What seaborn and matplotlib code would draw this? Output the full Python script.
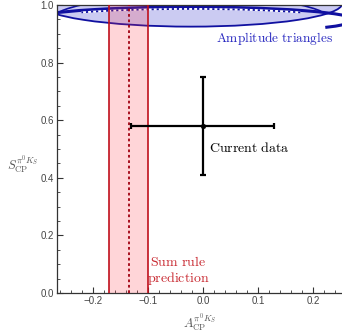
import matplotlib
matplotlib.use("Agg")
import matplotlib.pyplot as plt
import seaborn as sns
import pandas as pd
from matplotlib.patches import Ellipse, Arc
from matplotlib.ticker import MultipleLocator, FuncFormatter

# ---- data ----
meas_A = [0.00]
meas_S = [0.58]
meas_A_err = [0.13]
meas_S_err = [0.17]

sumrule_low = -0.17
sumrule_high = -0.10
sumrule_central = -0.135

# amplitude-triangle contours: filled region, thick contour, thin contour, dotted contour
tri_cx = [-0.022, -0.022, -0.022, -0.022]
tri_cy = [1.005, 0.948, 0.950, 0.944]
tri_w = [0.550, 0.595, 0.504, 0.570]
tri_h = [0.160, 0.090, 0.164, 0.085]
tri_theta1 = [0.0, -6.0, 6.75, 8.7]
tri_theta2 = [360.0, 180.0, 180.0, 171.3]

x_ticks = [-0.2, -0.1, 0.0, 0.1, 0.2]
y_ticks = [0.0, 0.2, 0.4, 0.6, 0.8, 1.0]

sns.set_theme(style="ticks")
plt.rcParams['font.family'] = ['Liberation Sans', 'DejaVu Sans']
plt.rcParams['mathtext.fontset'] = 'cm'

fig = plt.figure(figsize=(3.42, 3.36), dpi=100)
ax = fig.add_axes([0.168, 0.128, 0.832, 0.857])
ax.set_xlim(-0.2645, 0.2527)
ax.set_ylim(0, 1)

navy = "#1010a0"
# filled amplitude-triangle region
ax.add_patch(Ellipse((tri_cx[0], tri_cy[0]), tri_w[0], tri_h[0],
                     facecolor="#cbcbf2", edgecolor=navy, lw=1.3, zorder=1))
# thick contour
ax.add_patch(Arc((tri_cx[1], tri_cy[1]), tri_w[1], tri_h[1],
                 theta1=tri_theta1[1], theta2=tri_theta2[1],
                 edgecolor=navy, lw=2.2, zorder=2))
# thin contour
ax.add_patch(Arc((tri_cx[2], tri_cy[2]), tri_w[2], tri_h[2],
                 theta1=tri_theta1[2], theta2=tri_theta2[2],
                 edgecolor=navy, lw=1.2, zorder=2))
# dotted contour
ax.add_patch(Arc((tri_cx[3], tri_cy[3]), tri_w[3], tri_h[3],
                 theta1=tri_theta1[3], theta2=tri_theta2[3],
                 edgecolor="white", lw=1.3, zorder=2))
ax.add_patch(Arc((tri_cx[3], tri_cy[3]), tri_w[3], tri_h[3],
                 theta1=tri_theta1[3], theta2=tri_theta2[3],
                 edgecolor=navy, lw=1.3, ls=(0, (1.2, 1.6)), zorder=2))

# sum rule band
ax.axvspan(sumrule_low, sumrule_high, color="#ff3040", alpha=0.2, lw=0, zorder=3)
ax.axvline(sumrule_low, color="#c0101c", lw=1.2, zorder=4)
ax.axvline(sumrule_high, color="#c0101c", lw=1.2, zorder=4)
ax.axvline(sumrule_central, color="#a00010", lw=1.3, ls=(0, (1.5, 1.5)), zorder=4)

# current data
df = pd.DataFrame({"A": meas_A, "S": meas_S})
ax.errorbar(meas_A, meas_S, xerr=meas_A_err, yerr=meas_S_err, fmt="none",
            ecolor="black", elinewidth=1.6, capsize=2, capthick=1.6, zorder=5)
sns.scatterplot(data=df, x="A", y="S", ax=ax, color="black", s=12,
                edgecolor="black", zorder=6, legend=False)

# annotations
ax.text(0.236, 0.885, r"$\mathrm{Amplitude\ triangles}$", color="#2828c0",
        fontsize=9.6, ha="right", va="center")
ax.text(0.011, 0.503, r"$\mathrm{Current\ data}$", color="black",
        fontsize=10, ha="left", va="center")
ax.text(-0.045, 0.076, "$\\mathrm{Sum\\ rule}$\n$\\mathrm{prediction}$",
        color="#c82830", fontsize=10, ha="center", va="center",
        multialignment="center", linespacing=1.05)

# axes styling
fmt = FuncFormatter(lambda v, p: ("%.1f" % v).replace("-0.0", "0.0").replace("-", "\u2212"))
ax.set_xticks(x_ticks)
ax.set_yticks(y_ticks)
ax.xaxis.set_major_formatter(fmt)
ax.yaxis.set_major_formatter(fmt)
ax.xaxis.set_minor_locator(MultipleLocator(0.02))
ax.yaxis.set_minor_locator(MultipleLocator(0.05))
ax.tick_params(which="both", direction="in", top=True, right=False,
               color="#333333", labelsize=7, labelcolor="#444444", pad=2.5)
ax.tick_params(which="major", length=4, width=0.8)
ax.tick_params(which="minor", length=2, width=0.6)
for name, sp in ax.spines.items():
    sp.set_color("#333333")
    sp.set_linewidth(0.9)
    sp.set_visible(name != "right")

ax.set_xlabel(r"$A_{\rm CP}^{\pi^0 K_S}$", fontsize=9, color="#555555", labelpad=4)
ax.set_ylabel(r"$S_{\rm CP}^{\pi^0 K_S}$", fontsize=9, color="#555555", rotation=0,
              ha="center", va="center")
ax.yaxis.set_label_coords(-0.12, 0.444)

fig.savefig("out.png", dpi=100)
